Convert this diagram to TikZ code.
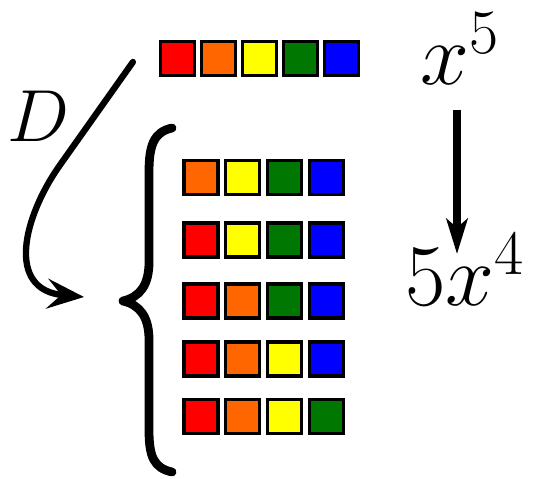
\documentclass[tikz,border=0pt]{standalone}
\usepackage{fix-cm}
\DeclareMathSizes{50}{50}{36}{28}
\usetikzlibrary{arrows.meta,calc}
\definecolor{cR}{HTML}{FF0000}
\definecolor{cO}{HTML}{FF6600}
\definecolor{cY}{HTML}{FFFF00}
\definecolor{cG}{HTML}{007700}
\definecolor{cB}{HTML}{0000FF}
\begin{document}
\begin{tikzpicture}[x=0.02cm,y=-0.02cm,
  sq/.style={draw=black,line width=1.8pt,minimum size=0.68cm,inner sep=0pt,fill=#1},
  big/.style={inner sep=0pt,font=\fontsize{50}{56}\selectfont},
  dlab/.style={inner sep=0pt,font=\fontsize{42}{48}\selectfont},
  bracestyle/.style={line width=5pt,line cap=round,line join=round},
  darr/.style={line width=3.6pt,line cap=round,-{Stealth[length=21pt,width=17pt,inset=8pt]}},
  varr/.style={line width=4pt,-{Stealth[length=20pt,width=12pt,inset=5pt]}}]
\useasboundingbox (0,0) rectangle (535,479);
% top row
\foreach \c [count=\i from 0] in {cR,cO,cY,cG,cB}
  \node[sq=\c] (t\i) at (177.5+41*\i,58.5) {};
% lower rows
\foreach \c [count=\i from 0] in {cO,cY,cG,cB}
  \node[sq=\c] (a\i) at (201+41.7*\i,177.5) {};
\foreach \c [count=\i from 0] in {cR,cY,cG,cB}
  \node[sq=\c] (b\i) at (201+41.7*\i,240) {};
\foreach \c [count=\i from 0] in {cR,cO,cG,cB}
  \node[sq=\c] (c\i) at (201+41.7*\i,301) {};
\foreach \c [count=\i from 0] in {cR,cO,cY,cB}
  \node[sq=\c] (d\i) at (201+41.7*\i,359) {};
\foreach \c [count=\i from 0] in {cR,cO,cY,cG}
  \node[sq=\c] (e\i) at (201+41.7*\i,416.5) {};
% brace
\coordinate (btip) at (123,301);
\draw[bracestyle] (172,128) .. controls (154,132) and (149,145) .. (149,172)
  -- (149,262) .. controls (149,285) and (140,297) .. (btip)
  .. controls (140,305) and (149,317) .. (149,340)
  -- (149,430) .. controls (149,457) and (154,468) .. (172,472);
% formulas
\node[big,anchor=base west] (x5) at (420,85) {$x^5$};
\node[big,anchor=base west] (fx) at (405,306) {$5x^4$};
\draw[varr,shorten <=14pt,shorten >=-12pt] (457,0 |- x5.south) -- (457,0 |- fx.north);
% D arrow
\node[dlab] (D) at (38,116) {$D$};
\draw[darr] ($(t0.west)+(-26,3.5)$) -- (60,165) .. controls (23.5,216.5) and (5,290) .. ($(btip)+(-39,-4)$);
\end{tikzpicture}
\end{document}
